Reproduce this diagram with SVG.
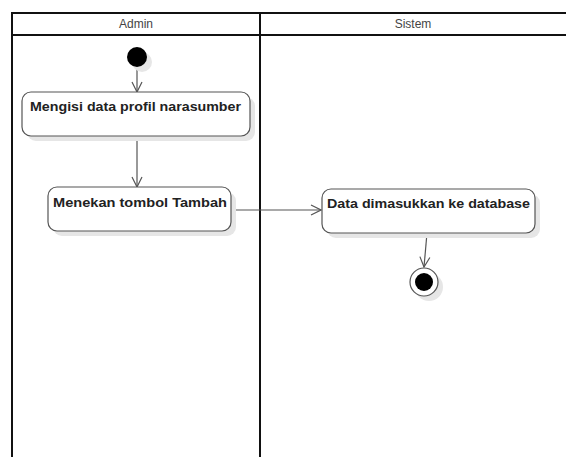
<svg xmlns="http://www.w3.org/2000/svg" width="566" height="457" viewBox="0 0 566 457">
  <style>
    .lane { stroke: #111; stroke-width: 2; fill: none; }
    .lanetitle { font-family: "Liberation Sans", Arial, sans-serif; font-size: 12px; fill: #444; text-anchor: middle; }
    .shadow { fill: #e6e6e6; stroke: none; }
    .action { fill: #fff; stroke: #555; stroke-width: 1.2; }
    .label { font-family: "Liberation Sans", Arial, sans-serif; font-size: 13px; font-weight: bold; fill: #222; }
    .flow { stroke: #555; stroke-width: 1.2; fill: none; marker-end: url(#open); }
  </style>
  <defs>
    <marker id="open" viewBox="0 0 12 12" refX="11" refY="6" markerWidth="12" markerHeight="12" markerUnits="userSpaceOnUse" orient="auto">
      <path d="M1,1 L11,6 L1,11" fill="none" stroke="#555" stroke-width="1.2"/>
    </marker>
  </defs>

  <rect width="566" height="457" fill="#fff"/>

  <!-- swimlanes -->
  <g id="lanes">
    <line class="lane" x1="12" y1="13" x2="566" y2="13"/>
    <line class="lane" x1="12" y1="35" x2="566" y2="35"/>
    <line class="lane" x1="12" y1="12" x2="12" y2="457"/>
    <line class="lane" x1="260" y1="12" x2="260" y2="457"/>
    <text class="lanetitle" x="136" y="28">Admin</text>
    <text class="lanetitle" x="413" y="28">Sistem</text>
  </g>

  <!-- connectors -->
  <g id="connectors">
    <line class="flow" x1="137" y1="67" x2="137" y2="92"/>
    <line class="flow" x1="137" y1="136" x2="137" y2="187"/>
    <line class="flow" x1="231" y1="210" x2="321" y2="210"/>
    <line class="flow" x1="427" y1="233" x2="424" y2="267"/>
  </g>

  <g id="start">
    <circle class="shadow" cx="142" cy="62" r="10"/>
    <circle cx="137" cy="57" r="10" fill="#000"/>
  </g>

  <g id="isi-profil">
    <rect class="shadow" x="27" y="97" width="228" height="44" rx="9"/>
    <rect class="action" x="22" y="92" width="228" height="44" rx="9"/>
    <text class="label" x="30" y="111" textLength="211" lengthAdjust="spacingAndGlyphs">Mengisi data profil narasumber</text>
  </g>

  <g id="tekan-tambah">
    <rect class="shadow" x="53" y="192" width="183" height="44" rx="9"/>
    <rect class="action" x="48" y="187" width="183" height="44" rx="9"/>
    <text class="label" x="53" y="207" textLength="174" lengthAdjust="spacingAndGlyphs">Menekan tombol Tambah</text>
  </g>

  <g id="simpan-database">
    <rect class="shadow" x="327" y="194" width="213" height="44" rx="9"/>
    <rect class="action" x="322" y="189" width="213" height="44" rx="9"/>
    <text class="label" x="327" y="208" textLength="203" lengthAdjust="spacingAndGlyphs">Data dimasukkan ke database</text>
  </g>

  <g id="end">
    <circle class="shadow" cx="429" cy="287" r="14"/>
    <circle cx="424" cy="282" r="14" fill="#fff" stroke="#555" stroke-width="1.2"/>
    <circle cx="424" cy="282" r="9" fill="#000"/>
  </g>
</svg>
